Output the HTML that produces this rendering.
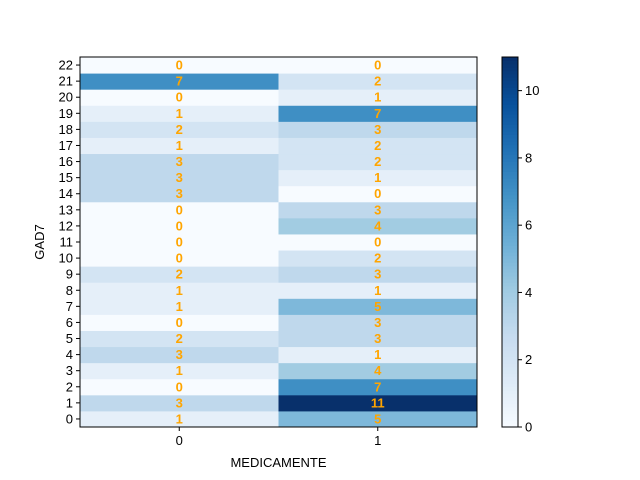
<!DOCTYPE html>
<html><head><meta charset="utf-8"><style>body{margin:0;background:#fff}svg{display:block;font-family:"Liberation Sans","DejaVu Sans",sans-serif}</style></head>
<body>
<svg id="chart" width="640" height="480"></svg>
<script>
const rowLabels=["0","1","2","3","4","5","6","7","8","9","10","11","12","13","14","15","16","17","18","19","20","21","22"];
const colLabels=["0","1"];
const col0Values=[1,3,0,1,3,2,0,1,1,2,0,0,0,0,3,3,3,1,2,1,0,7,0];
const col1Values=[5,11,7,4,1,3,3,5,1,3,2,0,4,3,0,1,2,2,3,7,1,2,0];
const cbTicks=[0,2,4,6,8,10];
const vmax=11;
const NS="http://www.w3.org/2000/svg";
const svg=document.getElementById('chart');
const L=80,R=477,T=57,B=427;
const nR=rowLabels.length,nC=colLabels.length;
const rh=(B-T)/nR,cw=(R-L)/nC;
const yRow=i=>B-(i+1)*rh;
const xCol=j=>L+j*cw;
const stops=["#f7fbff","#deebf7","#c6dbef","#9ecae1","#6baed6","#4292c6","#2171b5","#08519c","#08306b"];
function hex(h){return [1,3,5].map(k=>parseInt(h.substr(k,2),16));}
function cmap(t){t=Math.max(0,Math.min(1,t));const p=t*8,i=Math.min(7,Math.floor(p)),f=p-i;const a=hex(stops[i]),b=hex(stops[i+1]);return `rgb(${a.map((v,k)=>Math.round(v+(b[k]-v)*f)).join(',')})`;}
function el(tag,attrs,txt){const e=document.createElementNS(NS,tag);for(const k in attrs)e.setAttribute(k,attrs[k]);if(txt!==undefined)e.textContent=txt;svg.appendChild(e);return e;}
const cols=[col0Values,col1Values];
cols.forEach((vals,j)=>vals.forEach((v,i)=>{
 const r=el('rect',{x:xCol(j),y:yRow(i),width:cw+0.5,height:rh+0.5,fill:cmap(v/vmax)});
 
 
 const t=el('text',{x:xCol(j)+cw/2,y:yRow(i)+rh/2+4.5,'text-anchor':'middle','font-size':13,'font-weight':'bold',fill:'orange'},v);
 
 
}));
const fr=el('rect',{x:L,y:T,width:R-L,height:B-T,fill:'none',stroke:'#000','stroke-width':1});


rowLabels.forEach((lab,i)=>{const y=yRow(i)+rh/2;
 el('line',{x1:L-4,x2:L,y1:y,y2:y,stroke:'#000'});
 const t=el('text',{x:L-7,y:y+4.5,'text-anchor':'end','font-size':13},lab);
 
 });
colLabels.forEach((lab,j)=>{const x=xCol(j)+cw/2;
 el('line',{x1:x,x2:x,y1:B,y2:B+4,stroke:'#000'});
 const t=el('text',{x:x,y:B+18,'text-anchor':'middle','font-size':13},lab);
 
 });
const xt=el('text',{x:(L+R)/2,y:467,'text-anchor':'middle','font-size':13},'MEDICAMENTE');


const yt=el('text',{x:44,y:(T+B)/2,'text-anchor':'middle','font-size':13,transform:`rotate(-90 44 ${(T+B)/2})`},'GAD7');


// colorbar
const CL=502,CR=518,N=110;
for(let k=0;k<N;k++){el('rect',{x:CL,y:B-(k+1)*(B-T)/N,width:CR-CL,height:(B-T)/N+0.6,fill:cmap((k+0.5)/N)});}
const cb=el('rect',{x:CL,y:T,width:CR-CL,height:B-T,fill:'none',stroke:'#000'});


cbTicks.forEach(v=>{const y=B-v/vmax*(B-T);
 el('line',{x1:CR,x2:CR+4,y1:y,y2:y,stroke:'#000'});
 const t=el('text',{x:CR+7,y:y+4.5,'font-size':13},v);
 
 });
</script>
</body></html>
